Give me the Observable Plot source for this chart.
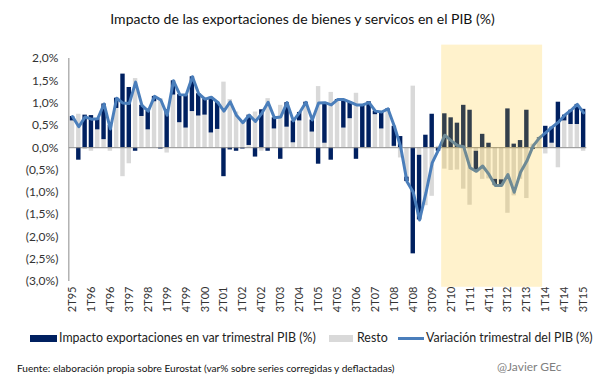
<!DOCTYPE html>
<html><head><meta charset="utf-8">
<script src="https://cdn.jsdelivr.net/npm/d3@7"></script>
<script src="https://cdn.jsdelivr.net/npm/@observablehq/plot@0.6"></script>
<style>
body{margin:0;background:#fff;font-family:Lato,"Open Sans",sans-serif;}
#wrap{position:relative;width:605px;height:378px;overflow:hidden;background:#fff;}
#title{position:absolute;top:10px;left:0;width:605px;text-align:center;font-size:14px;color:#111;white-space:nowrap;}
#chart{position:absolute;top:28px;left:0;width:605px;}
.lg{position:absolute;top:331px;font-size:12.4px;color:#222;white-space:nowrap;line-height:14px;}
.sw{position:absolute;}
#foot{position:absolute;left:17px;top:362px;font-size:10.1px;color:#111;white-space:nowrap;}
#sig{position:absolute;left:497px;top:359px;font-size:12px;color:#7f7f7f;white-space:nowrap;}
</style></head>
<body>
<div id="wrap">
<div id="title">Impacto de las exportaciones de bienes y servicos en el PIB (%)</div>
<div id="chart"></div>
<div class="sw" style="left:30px;top:335px;width:27px;height:7px;background:#002060"></div>
<div class="lg" style="left:59px">Impacto exportaciones en var trimestral PIB (%)</div>
<div class="sw" style="left:329px;top:335px;width:24px;height:7px;background:#d9d9d9"></div>
<div class="lg" style="left:357px">Resto</div>
<div class="sw" style="left:398px;top:337px;width:26px;height:3px;background:#4a7ebb"></div>
<div class="lg" style="left:426px">Variación trimestral del PIB (%)</div>
<div id="foot">Fuente: elaboración propia sobre Eurostat (var% sobre series corregidas y deflactadas)</div>
<div id="sig">@Javier GEc</div>
</div>
<script>
const quarters = ["2T95","3T95","4T95",
"1T96","2T96","3T96","4T96","1T97","2T97","3T97","4T97","1T98","2T98","3T98","4T98",
"1T99","2T99","3T99","4T99","1T00","2T00","3T00","4T00","1T01","2T01","3T01","4T01",
"1T02","2T02","3T02","4T02","1T03","2T03","3T03","4T03","1T04","2T04","3T04","4T04",
"1T05","2T05","3T05","4T05","1T06","2T06","3T06","4T06","1T07","2T07","3T07","4T07",
"1T08","2T08","3T08","4T08","1T09","2T09","3T09","4T09","1T10","2T10","3T10","4T10",
"1T11","2T11","3T11","4T11","1T12","2T12","3T12","4T12","1T13","2T13","3T13","4T13",
"1T14","2T14","3T14","4T14","1T15","2T15","3T15"];

const exportsImpact = [0.10,-0.28,0.73,
0.72,0.25,0.80,0.50,0.23,1.65,1.35,-0.08,0.25,0.42,0.12,-0.03,
0.85,0.32,0.63,0.74,0.78,0.50,0.36,0.80,0.61,-0.65,-0.05,-0.08,
-0.03,0.68,-0.21,0.85,-0.08,0.25,-0.26,0.55,0.49,0.19,0.05,0.27,
-0.37,0.91,-0.28,0.03,0.64,0.37,-0.26,0.96,1.03,0.08,0.38,0.04,
0.45,0.25,-0.10,-2.38,-1.45,0.28,0.75,-0.08,0.76,0.67,0.55,0.95,
0.84,-0.45,0.30,0.10,-0.14,-0.13,0.87,0.08,0.16,0.84,-0.04,0.02,
0.48,0.36,1.02,0.13,0.32,0.45,0.86];

const resto = [0.60,0.75,-0.04,
-0.08,0.40,0.18,-0.08,0.88,-0.65,-0.36,1.55,0.70,0.40,1.03,1.10,
-0.12,1.18,0.56,0.44,0.81,0.71,0.73,0.33,0.41,1.47,1.08,0.80,
0.59,0.05,0.80,-0.08,1.10,0.42,0.95,0.46,0.11,0.60,0.97,0.35,
1.37,0.10,1.24,1.05,0.44,0.65,1.22,0.00,-0.02,0.74,0.42,0.83,
0.03,-0.23,-0.66,1.38,-0.17,-1.30,-1.09,0.03,-0.48,-0.51,-0.50,-0.93,
-1.29,-0.08,-0.71,-0.70,-0.71,-0.72,-1.47,-1.08,-0.71,-1.14,0.08,0.20,
-0.14,0.10,-0.45,0.60,0.52,0.52,-0.08];

const gdp = [0.70,0.47,0.69,
0.64,0.65,0.98,0.42,1.11,1.00,0.99,1.47,0.95,0.82,1.15,1.07,
0.73,1.50,1.19,1.18,1.59,1.21,1.09,1.13,1.02,0.82,1.03,0.72,
0.56,0.73,0.59,0.77,1.02,0.67,0.69,1.01,0.60,0.79,1.02,0.62,
1.00,1.01,0.96,1.08,1.08,1.02,0.96,0.96,1.01,0.82,0.80,0.87,
0.48,0.02,-0.76,-1.00,-1.62,-1.02,-0.34,-0.05,0.28,0.16,0.05,0.02,
-0.45,-0.53,-0.41,-0.60,-0.85,-0.85,-0.60,-1.00,-0.55,-0.30,0.04,0.22,
0.34,0.46,0.57,0.73,0.84,0.97,0.78];

const seriesNames = ["Resto","Impacto exportaciones en var trimestral PIB (%)"];
const seriesColors = ["#d9d9d9","#002060"];
const xTickLabels = quarters.filter((d,i)=> i % 3 === 0);
const yTicks = [2,1.5,1,0.5,0,-0.5,-1,-1.5,-2,-2.5,-3];
const shadedPeriod = ["1T10","4T13"];

const bars = [];
quarters.forEach((q,i)=>{
  bars.push({q, s: seriesNames[0], v: resto[i]});
  bars.push({q, s: seriesNames[1], v: exportsImpact[i]});
});
const line = quarters.map((q,i)=>({q, v: gdp[i]}));

const fmt = d => {
  const s = Math.abs(d).toFixed(1).replace(".", ",") + "%";
  return d < 0 ? "(" + s + ")" : s;
};

const W = 605, H = 293, ML = 68.85, MR = 18.7, MT = 30, MB = 40;
const plot = Plot.plot({
  width: W, height: H,
  marginLeft: ML, marginRight: MR, marginTop: MT, marginBottom: MB,
  style: {fontFamily: "Lato, 'Open Sans', sans-serif", background: "#fff", overflow: "visible"},
  x: {domain: quarters, paddingInner: 0.3, paddingOuter: 0.15, round: false, axis: null},
  y: {domain: [-3, 2], axis: null},
  color: {domain: seriesNames, range: seriesColors},
  marks: [
    Plot.barY(bars, {x: "q", y: "v", fill: "s", z: "s", order: null}),
    Plot.ruleY([0], {stroke: "#8c8c8c", strokeWidth: 1}),
    Plot.lineY(line, {x: "q", y: "v", stroke: "#4a7ebb", strokeWidth: 3}),
    Plot.axisX({ticks: xTickLabels, tickRotate: -90, tickSize: 0, tickPadding: 5, fontSize: 11, fill: "#333", anchor: "bottom", label: null}),
    Plot.axisY({ticks: yTicks, tickFormat: fmt, tickSize: 0, tickPadding: 11, fontSize: 12, fill: "#333", anchor: "left", label: null})
  ]
});
document.getElementById("chart").appendChild(plot);

const sx = plot.scale("x"), sy = plot.scale("y");
const svg = d3.select(plot);
// y axis line
svg.append("line")
  .attr("x1", sx.range[0]).attr("x2", sx.range[0])
  .attr("y1", sy.apply(2)).attr("y2", sy.apply(-3))
  .attr("stroke", "#8c8c8c").attr("stroke-width", 1);
// highlighted period overlay
const gap = (sx.step - sx.bandwidth) / 2;
const x0 = sx.apply(shadedPeriod[0]) - gap;
const x1 = sx.apply(shadedPeriod[1]) + sx.bandwidth + gap;
svg.append("rect")
  .attr("x", x0).attr("width", x1 - x0)
  .attr("y", sy.apply(2.3)).attr("height", sy.apply(-3.13) - sy.apply(2.3))
  .attr("fill", "rgb(255,190,0)").attr("fill-opacity", 0.2);
</script>
</body></html>
